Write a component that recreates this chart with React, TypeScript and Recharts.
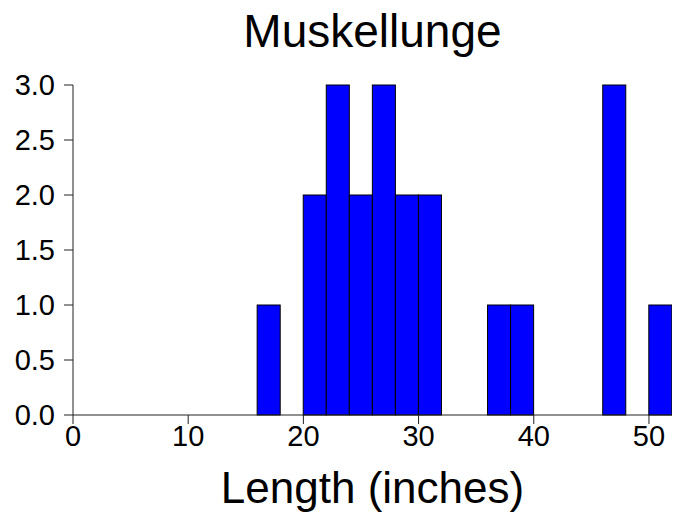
import { BarChart, Bar, XAxis, YAxis } from "recharts";

// histogram bins of width 2 inches, from 0 to 52
const binStarts = [0, 2, 4, 6, 8, 10, 12, 14, 16, 18, 20, 22, 24, 26, 28, 30, 32, 34, 36, 38, 40, 42, 44, 46, 48, 50];
const counts = [0, 0, 0, 0, 0, 0, 0, 0, 1, 0, 2, 3, 2, 3, 2, 2, 0, 0, 1, 1, 0, 0, 0, 3, 0, 1];
const xTicks = [0, 10, 20, 30, 40, 50];
const yTicks = [0, 0.5, 1, 1.5, 2, 2.5, 3];

const font = "'Liberation Sans', Arial, sans-serif";

export default function App() {
  const data = binStarts.map((s, i) => ({ mid: s + 1, count: counts[i] }));
  const plotLeft = 73;
  const plotRight = 672;
  const barW = (plotRight - plotLeft) / binStarts.length;

  // full-width histogram bars, centred on the position recharts gives
  const HistBar = (props: any) => {
    const { x, y, width, height } = props;
    if (!height || height <= 0) return null;
    const cx = x + width / 2;
    return (
      <rect x={cx - barW / 2} y={y} width={barW} height={height} fill="#0000ff" stroke="#000" strokeWidth={1} />
    );
  };

  return (
    <div style={{ position: "absolute", left: 0, top: 0, width: 676, height: 514, background: "#fff", fontFamily: font }}>
      <div style={{ position: "absolute", left: plotLeft, width: plotRight - plotLeft, top: 1, textAlign: "center", fontSize: 46, lineHeight: "60px" }}>
        Muskellunge
      </div>
      <BarChart
        width={676}
        height={514}
        data={data}
        barCategoryGap={0}
        barGap={0}
        margin={{ top: 85, right: 676 - plotRight, left: 0, bottom: 0 }}
      >
        <XAxis
          type="number"
          dataKey="mid"
          domain={[0, 52]}
          ticks={xTicks}
          allowDataOverflow
          height={99}
          tickSize={9}
          tickMargin={1}
          stroke="#222"
          tick={{ fill: "#000", fontSize: 29, fontFamily: font }}
        />
        <YAxis
          domain={[0, 3]}
          ticks={yTicks}
          width={plotLeft}
          tickSize={9}
          tickMargin={9}
          stroke="#222"
          tickFormatter={(v: number) => v.toFixed(1)}
          tick={{ fill: "#000", fontSize: 29, fontFamily: font }}
        />
        <Bar dataKey="count" fill="#0000ff" stroke="#000" barSize={barW} shape={HistBar} isAnimationActive={false} />
      </BarChart>
      <div style={{ position: "absolute", left: plotLeft, width: plotRight - plotLeft, top: 466, textAlign: "center", fontSize: 44, lineHeight: "44px" }}>
        Length (inches)
      </div>
    </div>
  );
}
